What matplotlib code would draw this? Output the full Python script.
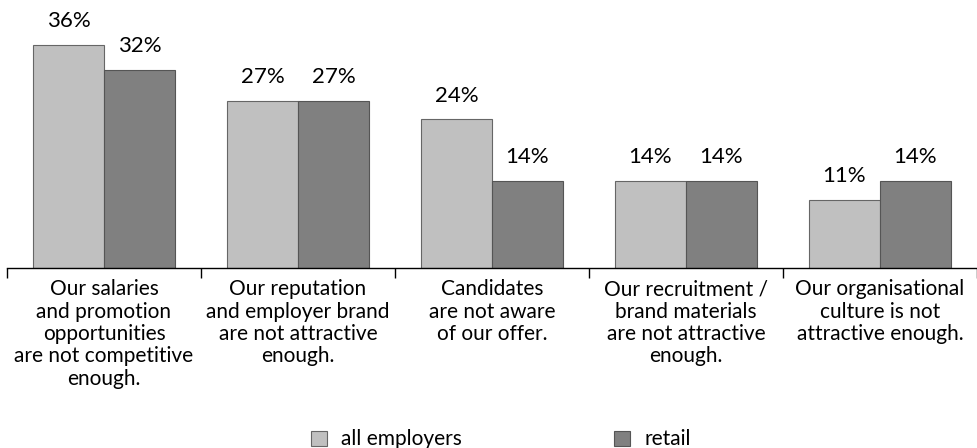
import numpy as np
import matplotlib.pyplot as plt

categories = [
    "Our salaries\nand promotion\nopportunities\nare not competitive\nenough.",
    "Our reputation\nand employer brand\nare not attractive\nenough.",
    "Candidates\nare not aware\nof our offer.",
    "Our recruitment /\nbrand materials\nare not attractive\nenough.",
    "Our organisational\nculture is not\nattractive enough.",
]
all_employers = [36, 27, 24, 14, 11]
retail = [32, 27, 14, 14, 14]
series_names = ["all employers", "retail"]

plt.rcParams['font.family'] = ['Lato', 'DejaVu Sans']

fig = plt.figure(figsize=(9.77, 4.48), dpi=100)
ax = fig.add_axes([7 / 977, 180 / 448, 970 / 977, 268 / 448])

x = np.arange(len(categories))
w = 0.366
b1 = ax.bar(x - w / 2, all_employers, w, color='#c0c0c0', edgecolor='#666666',
            linewidth=0.8, label=series_names[0])
b2 = ax.bar(x + w / 2, retail, w, color='#808080', edgecolor='#555555',
            linewidth=0.8, label=series_names[1])

for bars, vals in [(b1, all_employers), (b2, retail)]:
    for r, v in zip(bars, vals):
        ax.annotate(f"{v}%", (r.get_x() + r.get_width() / 2, v),
                    xytext=(0, 10), textcoords='offset points',
                    ha='center', va='bottom', fontsize=16, annotation_clip=False)

ax.set_xlim(-0.5, len(categories) - 0.5)
ax.set_ylim(0, 43.3)
ax.set_yticks([])
for s in ['top', 'right', 'left']:
    ax.spines[s].set_visible(False)
ax.spines['bottom'].set_linewidth(1)

ax.set_xticks(np.arange(len(categories) + 1) - 0.5)
ax.set_xticklabels([])
ax.tick_params(axis='x', length=7, width=1, direction='out')
ax.set_xticks(x, minor=True)
ax.set_xticklabels(categories, minor=True, fontsize=15, linespacing=1.15)
ax.tick_params(axis='x', which='minor', length=0, pad=8)

fig.legend(loc='lower center', bbox_to_anchor=(0.513, -0.045), ncol=2,
           frameon=False, fontsize=15, columnspacing=7.3,
           handlelength=0.75, handleheight=0.75, handletextpad=0.7)

fig.savefig("out.png", dpi=100)
